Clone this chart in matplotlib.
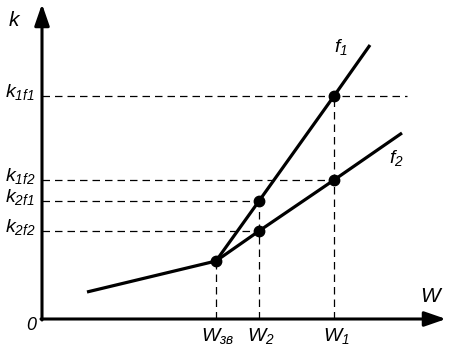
import matplotlib
matplotlib.use("Agg")
import matplotlib.pyplot as plt

plt.rcParams['mathtext.fontset'] = 'custom'
plt.rcParams['mathtext.it'] = 'Liberation Sans:italic'
plt.rcParams['mathtext.rm'] = 'Liberation Sans:italic'
plt.rcParams['font.family'] = ['Liberation Sans', 'DejaVu Sans']

# Data (arbitrary units)
W_base = [45, 174]          # low segment W
k_base = [27, 58]
W_zv = 174
W2 = 217
W1 = 292
f1_W = [174, 217, 292, 328]
f1_k = [58, 118, 223, 274]
f2_W = [174, 217, 292, 360]
f2_k = [58, 88, 139, 186]
marker_W = [174, 217, 217, 292, 292]
marker_k = [58, 118, 88, 223, 139]
k_levels = [223, 139, 118, 88]
k_labels = [r'$k_{1f1}$', r'$k_{1f2}$', r'$k_{2f1}$', r'$k_{2f2}$']
k_ends = [365, 292, 217, 217]
W_ticks = [174, 217, 292]
W_labels = [r'$W_{зв}$', r'$W_2$', r'$W_1$']

fig = plt.figure(figsize=(4.51, 3.51), dpi=100)
ax = fig.add_axes([0, 0, 1, 1])
ax.set_xlim(-42, 409)
ax.set_ylim(-32, 319)
ax.axis('off')

lw = 2.3
# dashed guides
for kv, xe in zip(k_levels, k_ends):
    ax.plot([0, xe], [kv, kv], color='black', lw=0.9, dashes=(6, 4))
for wv, kv in zip([W_zv, W2, W1], [58, 118, 223]):
    ax.plot([wv, wv], [0, kv], color='black', lw=0.9, dashes=(6, 4))

# curves
ax.plot(W_base, k_base, color='black', lw=lw, solid_capstyle='butt')
ax.plot(f1_W, f1_k, color='black', lw=lw, solid_capstyle='butt')
ax.plot(f2_W, f2_k, color='black', lw=lw, solid_capstyle='butt')
ax.plot(marker_W, marker_k, 'o', color='black', ms=7.5, zorder=5)

# axes with arrows
ax.annotate('', xy=(0, 315), xytext=(0, -1),
            arrowprops=dict(arrowstyle='-|>,head_length=1.3,head_width=0.45',
                            color='black', lw=2.2, shrinkA=0, shrinkB=0))
ax.annotate('', xy=(404, 0), xytext=(-1, 0),
            arrowprops=dict(arrowstyle='-|>,head_length=1.3,head_width=0.45',
                            color='black', lw=2.2, shrinkA=0, shrinkB=0))

fs = 14
ax.text(-27, 299, r'$k$', fontsize=fs + 1, ha='center', va='center')
ax.text(390, 22, r'$W$', fontsize=fs + 1, ha='center', va='center')
ax.text(-10, -7, r'$0$', fontsize=fs - 1, ha='center', va='center')
for kv, lab in zip(k_levels, k_labels):
    ax.text(-22, kv + 4, lab, fontsize=fs, ha='center', va='center')
for wv, lab in zip(W_ticks, W_labels):
    ax.text(wv + 2, -17, lab, fontsize=fs, ha='center', va='center')
ax.text(299, 272, r'$f_1$', fontsize=fs, ha='center', va='center')
ax.text(354, 161, r'$f_2$', fontsize=fs, ha='center', va='center')

fig.savefig('out.png', dpi=100)
